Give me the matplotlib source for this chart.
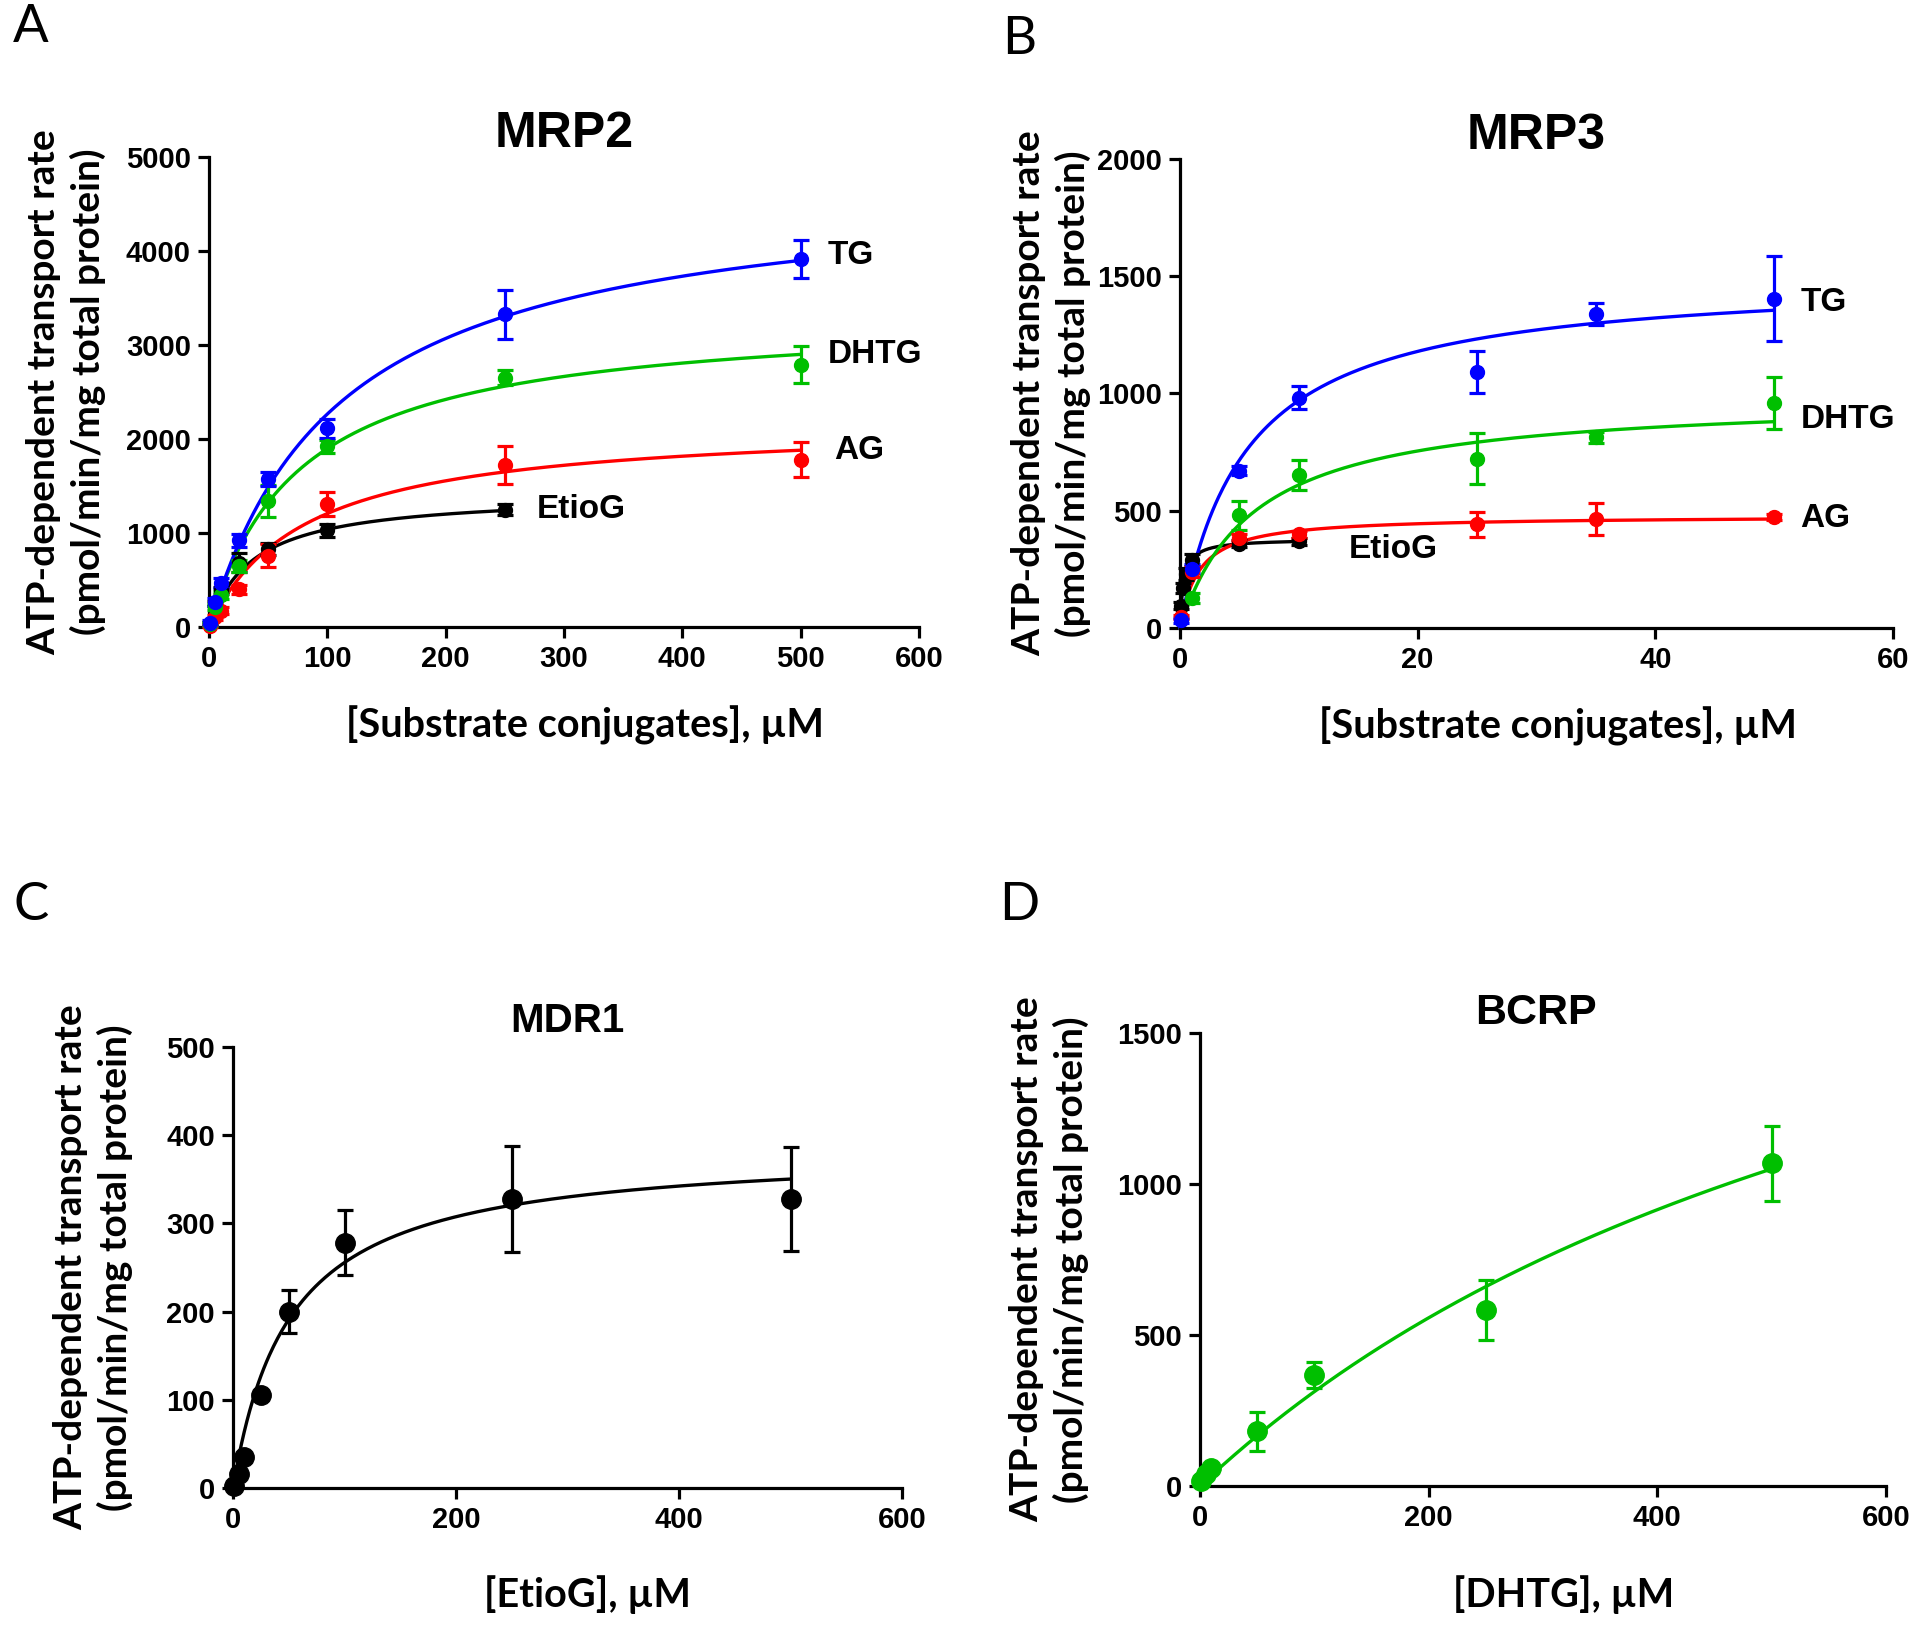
import matplotlib
matplotlib.use('Agg')
import matplotlib.pyplot as plt
import numpy as np

W, H = 1920, 1625
TICK_FONT = 'Liberation Sans'
TEXT_FONT = 'Liberation Sans'
LABEL_FONT = 'Lato'
YLABEL = 'ATP-dependent transport rate\n(pmol/min/mg total protein)'

BLUE, GREEN, RED, BLACK = '#0000ff', '#00bf00', '#ff0000', '#000000'

# Panel A, MRP2 (uM, pmol/min/mg)
a_tg_x = [1, 5, 10, 25, 50, 100, 250, 500]
a_tg_y = [47, 266, 466, 922, 1578, 2114, 3327, 3918]
a_tg_e = [30, 40, 50, 70, 75, 100, 260, 200]
a_dhtg_x = [1, 5, 10, 25, 50, 100, 250, 500]
a_dhtg_y = [30, 211, 339, 649, 1341, 1924, 2653, 2792]
a_dhtg_e = [20, 30, 40, 60, 170, 70, 80, 195]
a_ag_x = [1, 5, 10, 25, 50, 100, 250, 500]
a_ag_y = [11, 102, 175, 401, 758, 1305, 1724, 1778]
a_ag_e = [10, 30, 40, 50, 120, 128, 200, 185]
a_etio_x = [1, 5, 10, 25, 50, 100, 250]
a_etio_y = [30, 250, 390, 685, 831, 1031, 1250]
a_etio_e = [20, 30, 40, 100, 60, 70, 60]

# Panel B, MRP3
b_tg_x = [0.1, 1, 5, 10, 25, 35, 50]
b_tg_y = [32, 253, 671, 982, 1093, 1339, 1405]
b_tg_e = [10, 20, 20, 49, 90, 48, 182]
b_dhtg_x = [1, 5, 10, 25, 35, 50]
b_dhtg_y = [128, 480, 652, 722, 813, 960]
b_dhtg_e = [20, 60, 63, 110, 22, 110]
b_ag_x = [0.1, 1, 5, 10, 25, 35, 50]
b_ag_y = [47, 238, 385, 399, 443, 465, 473]
b_ag_e = [10, 20, 15, 15, 53, 67, 12]
b_etio_x = [0.1, 0.25, 0.5, 1, 5, 10]
b_etio_y = [95, 170, 230, 290, 360, 370]
b_etio_e = [15, 20, 25, 25, 15, 15]

# Panel C, MDR1 with EtioG
c_x = [1, 5, 10, 25, 50, 100, 250, 500]
c_y = [2, 16, 35, 105, 200, 278, 328, 328]
c_e = [1, 3, 5, 5, 24, 37, 60, 59]

# Panel D, BCRP with DHTG
d_x = [1, 5, 10, 50, 100, 250, 500]
d_y = [16, 39, 59, 181, 367, 583, 1068]
d_e = [5, 8, 10, 65, 42, 100, 125]

# Michaelis-Menten fit parameters: (Vmax, Km)
fit_a = {'TG': (4758, 110), 'DHTG': (3341, 76), 'AG': (2185, 81), 'EtioG': (1423, 37)}
fit_b = {'TG': (1504, 5.5), 'DHTG': (989, 6.2), 'AG': (479, 1.55), 'EtioG': (380, 0.3)}
fit_c = (386, 51)
fit_d = (2562, 720)


def box(l, t, r, b):
    return [l / W, 1 - b / H, (r - l) / W, (b - t) / H]


def style(ax, xmax, xstep, ymax, ystep):
    for s in ['top', 'right']:
        ax.spines[s].set_visible(False)
    for s in ['left', 'bottom']:
        ax.spines[s].set_linewidth(2.3)
    ax.set_xlim(0, xmax)
    ax.set_ylim(0, ymax)
    ax.set_xticks(np.arange(0, xmax + 1e-9, xstep))
    ax.set_yticks(np.arange(0, ymax + 1e-9, ystep))
    ax.tick_params(direction='out', length=8, width=2.3, labelsize=21, pad=5)
    for lab in ax.get_xticklabels() + ax.get_yticklabels():
        lab.set_fontfamily(TICK_FONT)
        lab.set_fontweight('bold')


def series(ax, x, y, e, fit, color, xend, ms, lw=2.4):
    xs = np.linspace(0, xend, 400)
    vmax, km = fit
    ax.plot(xs, vmax * xs / (km + xs), color=color, lw=lw, clip_on=False)
    ax.errorbar(x, y, yerr=e, fmt='o', color=color, ms=ms, elinewidth=2.3,
                capsize=6, capthick=2.3, clip_on=False, zorder=3)


def labels(ax, xlabel, title, tsize, tpad, xl_y, yl_x):
    ax.set_xlabel(xlabel, fontfamily=LABEL_FONT, fontweight='bold', fontsize=28.5)
    ax.set_ylabel(YLABEL, fontfamily=LABEL_FONT, fontweight='bold', fontsize=28,
                  linespacing=1.28)
    ax.set_title(title, fontfamily=TEXT_FONT, fontweight='bold', fontsize=tsize, pad=tpad)
    ax.xaxis.set_label_coords(0.53, xl_y)
    ax.yaxis.set_label_coords(yl_x, 0.5)


fig = plt.figure(figsize=(W / 100, H / 100), dpi=100)

# A
ax = fig.add_axes(box(209, 157, 919, 627))
series(ax, a_etio_x, a_etio_y, a_etio_e, fit_a['EtioG'], BLACK, 250, 10)
series(ax, a_ag_x, a_ag_y, a_ag_e, fit_a['AG'], RED, 500, 10)
series(ax, a_dhtg_x, a_dhtg_y, a_dhtg_e, fit_a['DHTG'], GREEN, 500, 10)
series(ax, a_tg_x, a_tg_y, a_tg_e, fit_a['TG'], BLUE, 500, 10)
style(ax, 600, 100, 5000, 1000)
labels(ax, '[Substrate conjugates], µM', 'MRP2', 36, 6, -0.168, -0.145)
for txt, tx, ty in [('TG', 523, 3950), ('DHTG', 523, 2900), ('AG', 528, 1880), ('EtioG', 277, 1250)]:
    ax.text(tx, ty, txt, fontfamily=TEXT_FONT, fontweight='bold', fontsize=24, va='center')

# B
ax = fig.add_axes(box(1180, 159, 1893, 628))
series(ax, b_etio_x, b_etio_y, b_etio_e, fit_b['EtioG'], BLACK, 10, 10)
series(ax, b_ag_x, b_ag_y, b_ag_e, fit_b['AG'], RED, 50, 10)
series(ax, b_dhtg_x, b_dhtg_y, b_dhtg_e, fit_b['DHTG'], GREEN, 50, 10)
series(ax, b_tg_x, b_tg_y, b_tg_e, fit_b['TG'], BLUE, 50, 10)
style(ax, 60, 20, 2000, 500)
labels(ax, '[Substrate conjugates], µM', 'MRP3', 36, 6, -0.168, -0.125)
for txt, tx, ty in [('TG', 52.2, 1390), ('DHTG', 52.2, 891), ('AG', 52.2, 465), ('EtioG', 14.2, 335)]:
    ax.text(tx, ty, txt, fontfamily=TEXT_FONT, fontweight='bold', fontsize=24, va='center')

# C
ax = fig.add_axes(box(233, 1047, 902, 1488))
series(ax, c_x, c_y, c_e, fit_c, BLACK, 500, 14)
style(ax, 600, 200, 500, 100)
labels(ax, '[EtioG], µM', 'MDR1', 29, 11, -0.197, -0.15)

# D
ax = fig.add_axes(box(1200, 1033, 1886, 1486))
series(ax, d_x, d_y, d_e, fit_d, GREEN, 500, 14)
style(ax, 600, 200, 1500, 500)
labels(ax, '[DHTG], µM', 'BCRP', 31, 3, -0.196, -0.162)
ax.title.set_x(0.49)

for letter, px, py in [('A', 31, 27), ('B', 1019, 40), ('C', 31, 906), ('D', 1019, 906)]:
    fig.text(px / W, 1 - py / H, letter, fontfamily=LABEL_FONT, fontsize=38,
             ha='center', va='center')

fig.savefig('out.png', dpi=100)
